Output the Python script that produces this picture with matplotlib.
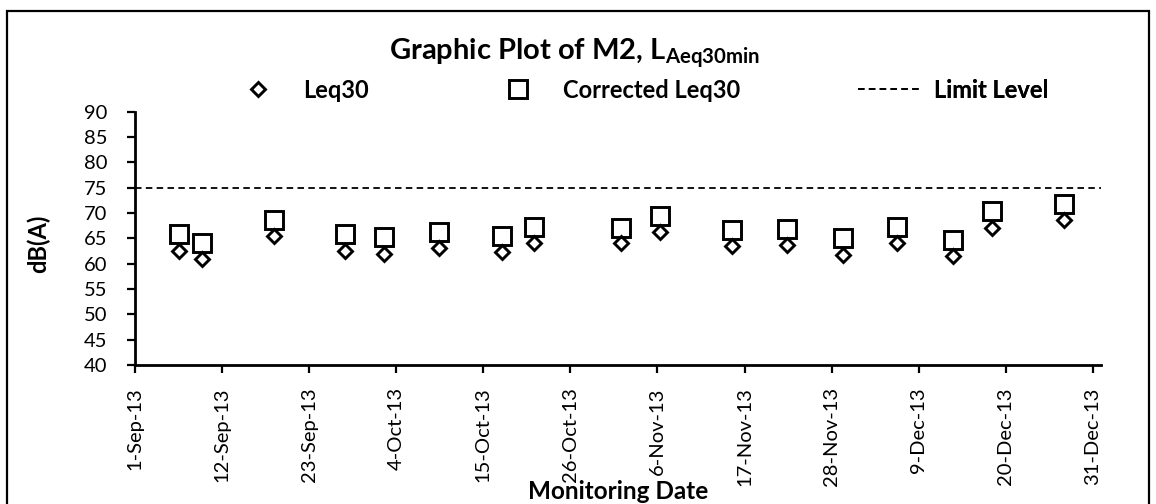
import numpy as np
import pandas as pd
import matplotlib
matplotlib.use('Agg')
import matplotlib.pyplot as plt
import matplotlib.dates as mdates
from matplotlib.patches import Rectangle

plt.rcParams['font.family'] = ['Lato', 'DejaVu Sans']
plt.rcParams['mathtext.fontset'] = 'custom'
plt.rcParams['mathtext.bf'] = 'Lato:bold'
plt.rcParams['mathtext.rm'] = 'Lato'

# monitoring dates and levels
dates = pd.to_datetime([
    '2013-09-06 12:00', '2013-09-09 12:00', '2013-09-18 12:00', '2013-09-27 12:00',
    '2013-10-02 10:00', '2013-10-09 10:00', '2013-10-17 10:00', '2013-10-21 10:00',
    '2013-11-01 10:00', '2013-11-06 07:00', '2013-11-15 10:00', '2013-11-22 10:00',
    '2013-11-29 10:00', '2013-12-06 07:00', '2013-12-13 07:00', '2013-12-18 07:00',
    '2013-12-27 10:00'])
leq30 = [62.6, 60.9, 65.5, 62.6, 62.0, 63.0, 62.4, 64.1, 64.0, 66.2,
         63.5, 63.7, 61.8, 64.1, 61.5, 67.1, 68.7]
corrected = [65.8, 64.0, 68.6, 65.8, 65.3, 66.2, 65.5, 67.3, 67.1, 69.4,
             66.6, 66.8, 65.0, 67.3, 64.7, 70.3, 71.8]
limit_level = 75

x_start = pd.Timestamp('2013-09-01')
x_end = pd.Timestamp('2014-01-01')
tick_dates = pd.date_range('2013-09-01', '2013-12-31', freq='11D')
y_ticks = np.arange(40, 95, 5)

fig = plt.figure(figsize=(11.56, 5.04), dpi=100)
ax = fig.add_axes([0.1168, 0.2758, 0.9522 - 0.1168, 0.7784 - 0.2758])

h1, = ax.plot(dates, leq30, linestyle='none', marker='D', ms=7.4, mfc='white',
              mec='black', mew=2.1, zorder=3)
h2, = ax.plot(dates, corrected, linestyle='none', marker='s', ms=12.8, mfc='none',
              mec='black', mew=2.1, zorder=4)
h3, = ax.plot([x_start, x_end], [limit_level, limit_level], color='black', lw=1.3,
              dashes=(3.6, 2.4))

ax.set_xlim(x_start, x_end)
ax.set_ylim(40, 90)
ax.set_yticks(y_ticks)
ax.set_xticks(tick_dates)
ax.xaxis.set_major_formatter(mdates.DateFormatter('%-d-%b-%y'))
plt.setp(ax.get_xticklabels(), rotation=90)

for s in ['top', 'right']:
    ax.spines[s].set_visible(False)
for s in ['left', 'bottom']:
    ax.spines[s].set_linewidth(2.0)
ax.tick_params(axis='both', direction='out', length=6, width=1.6, labelsize=14.5)
ax.tick_params(axis='y', pad=14)
ax.tick_params(axis='x', pad=10)

ax.set_ylabel('dB(A)', fontsize=17, fontweight='bold', va='center')
ax.yaxis.set_label_coords(-0.1004, 0.48)
ax.set_xlabel('Monitoring Date', fontsize=17.5, fontweight='bold', va='center')
ax.xaxis.set_label_coords(0.5, -0.50)

fig.text(0.497, 1 - 60 / 504, r'Graphic Plot of M2, L$_{\mathbf{Aeq30min}}$', ha='center',
         va='baseline', fontsize=21, fontweight='bold')

# one legend box per entry so each sits where it does in the original
legend_items = [(h1, 'Leq30', 227.5), (h2, 'Corrected Leq30', 487.5), (h3, 'Limit Level', 858)]
for handle, label, x_px in legend_items:
    leg = ax.legend([handle], [label], loc='center left',
                    bbox_to_anchor=(x_px / 1156, 1 - 90 / 504), bbox_transform=fig.transFigure,
                    frameon=False, prop={'weight': 'bold', 'size': 17},
                    handlelength=2.6, handletextpad=0.6, borderpad=0, borderaxespad=0)
    ax.add_artist(leg)

fig.patches.append(Rectangle((7 / 1156, -0.02), 1142 / 1156, 1.02 - 11 / 504,
                             transform=fig.transFigure, fill=False,
                             edgecolor='black', lw=1.6))

fig.savefig('out.png', dpi=100)
